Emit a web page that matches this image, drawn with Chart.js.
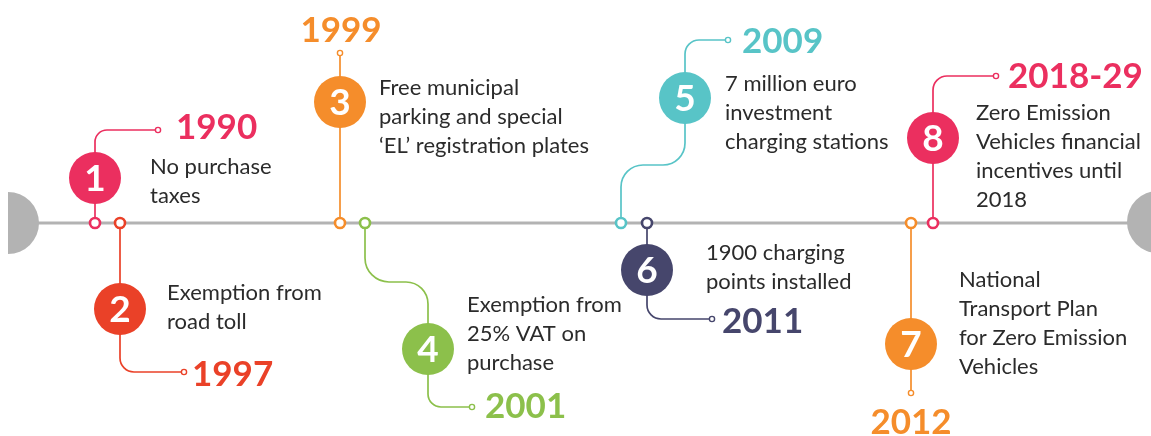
<!DOCTYPE html>
<html>
<head>
<meta charset="utf-8">
<script src="https://cdn.jsdelivr.net/npm/chart.js@4"></script>
<style>
html,body{margin:0;padding:0;background:#fff;overflow:hidden;}
canvas{display:block;}
</style>
</head>
<body>
<canvas id="c" width="1151" height="436"></canvas>
<script>
// ---- data ----
const numbers = ['1','2','3','4','5','6','7','8'];
const years = ['1990','1997','1999','2001','2009','2011','2012','2018-29'];
const descriptions = [
  ['No purchase','taxes'],
  ['Exemption from','road toll'],
  ['Free municipal','parking and special','\u2018EL\u2019 registration plates'],
  ['Exemption from','25% VAT on','purchase'],
  ['7 million euro','investment','charging stations'],
  ['1900 charging','points installed'],
  ['National','Transport Plan','for Zero Emission','Vehicles'],
  ['Zero Emission','Vehicles financial','incentives until','2018']
];
// position of each event's marker along the timeline
const axisPos = [95,120,340,365,621,647,911,933];
const colors = ['#eb2f5f','#ea4128','#f58d2b','#8cc04b','#58c4c7','#46466c','#f58d2b','#eb2f5f'];

// ---- layout ----
const axisY = 223;
const gray = '#b3b3b3';
const circles = [[95,178],[120,309],[340,102],[428,349],[685,98],[647,270],[911,344],[933,138]];
const paths = [
  {pts:[[95,223],[95,130],[158,130]], r:[12]},
  {pts:[[120,223],[120,372],[184,372]], r:[14]},
  {pts:[[340,223],[340,53]], r:[]},
  {pts:[[365,223],[365,282],[428,282],[428,407],[472,407]], r:[24,22,13]},
  {pts:[[621,223],[621,165],[685,165],[685,40],[728,40]], r:[22,22,14]},
  {pts:[[647,223],[647,319],[712,319]], r:[14]},
  {pts:[[911,223],[911,393]], r:[]},
  {pts:[[933,223],[933,76],[996,76]], r:[14]}
];
const yearPos = [[176,139,'left'],[192,386,'left'],[341,42,'center'],[485,418,'left'],[742,53,'left'],[722,333,'left'],[911,434,'center'],[1008,88,'left']];
const descPos = [[150,174],[167,300],[379,95],[467,312],[725,91],[706,260],[959,287],[976,120]];
const lineH = 29;

const endDots = paths.map(p => p.pts[p.pts.length-1]);

const drawPlugin = {
  id:'timeline',
  beforeDatasetsDraw(chart){
    const {ctx, scales:{x,y}} = chart;
    ctx.save();
    ctx.fillStyle = gray;
    ctx.beginPath();
    ctx.arc(x.getPixelForValue(8), y.getPixelForValue(axisY), 31, -Math.PI/2, Math.PI/2);
    ctx.closePath(); ctx.fill();
    ctx.beginPath();
    ctx.arc(x.getPixelForValue(1158), y.getPixelForValue(axisY-1), 31, Math.PI/2, Math.PI*1.5);
    ctx.closePath(); ctx.fill();
    paths.forEach((p,i) => {
      ctx.strokeStyle = colors[i];
      ctx.lineWidth = 1.7;
      ctx.beginPath();
      const P = p.pts.map(q => [x.getPixelForValue(q[0]), y.getPixelForValue(q[1])]);
      ctx.moveTo(P[0][0], P[0][1]);
      for(let k=1;k<P.length-1;k++){
        ctx.arcTo(P[k][0],P[k][1],P[k+1][0],P[k+1][1],p.r[k-1]);
      }
      ctx.lineTo(P[P.length-1][0],P[P.length-1][1]);
      ctx.stroke();
    });
    ctx.restore();
  },
  afterDatasetsDraw(chart){
    const {ctx, scales:{x,y}} = chart;
    ctx.save();
    ctx.textAlign='center'; ctx.textBaseline='alphabetic';
    ctx.font = 'bold 37px Lato';
    ctx.fillStyle = '#fff';
    circles.forEach((c,i)=>{
      ctx.fillText(numbers[i], x.getPixelForValue(c[0]), y.getPixelForValue(c[1])+13);
    });
    ctx.font = 'bold 35px Lato';
    years.forEach((t,i)=>{
      ctx.fillStyle = colors[i];
      ctx.textAlign = yearPos[i][2];
      ctx.fillText(t, x.getPixelForValue(yearPos[i][0]), y.getPixelForValue(yearPos[i][1]));
    });
    ctx.font = '22px Lato';
    ctx.fillStyle = '#2b2b2b';
    ctx.textAlign = 'left';
    descriptions.forEach((lines,i)=>{
      lines.forEach((l,k)=>{
        ctx.fillText(l, x.getPixelForValue(descPos[i][0]), y.getPixelForValue(descPos[i][1]+k*lineH));
      });
    });
    ctx.restore();
  }
};

new Chart(document.getElementById('c'), {
  type:'scatter',
  data:{
    datasets:[
      {type:'line', data:[{x:8,y:axisY},{x:1158,y:axisY}], borderColor:gray, borderWidth:3, pointRadius:0, order:5, clip:false},
      {data: circles.map(c=>({x:c[0],y:c[1]})), pointRadius:26, pointBackgroundColor:colors, pointBorderWidth:0, borderColor:colors, order:3, clip:false},
      {data: axisPos.map(v=>({x:v,y:axisY})), pointRadius:5, pointBackgroundColor:'#fff', pointBorderColor:colors, pointBorderWidth:2.6, order:2, clip:false},
      {data: endDots.map(d=>({x:d[0],y:d[1]})), pointRadius:2.6, pointBackgroundColor:'#fff', pointBorderColor:colors, pointBorderWidth:1.4, order:1, clip:false}
    ]
  },
  options:{
    responsive:false, animation:false, events:[],
    layout:{padding:0, autoPadding:false},
    plugins:{legend:{display:false}, tooltip:{enabled:false}},
    scales:{
      x:{type:'linear', min:0, max:1151, display:false},
      y:{type:'linear', min:0, max:436, reverse:true, display:false}
    }
  },
  plugins:[drawPlugin]
});
</script>
</body>
</html>
